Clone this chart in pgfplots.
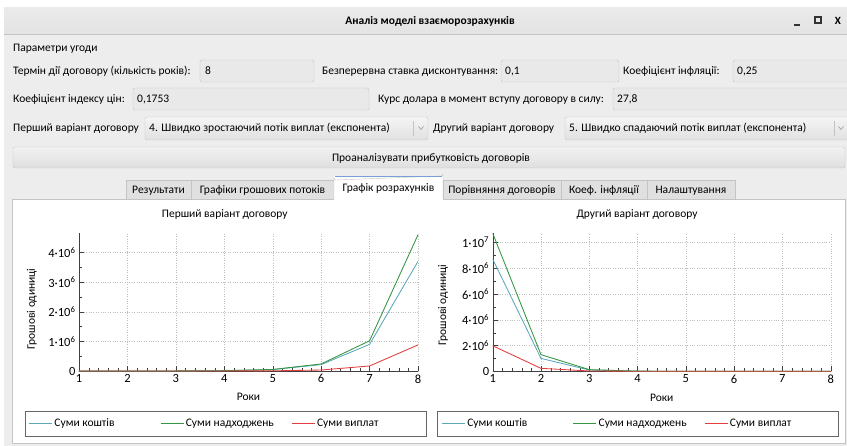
\documentclass[border=0pt]{standalone}
\usepackage{pgfplots}
\pgfplotsset{compat=1.18}
\usepackage{fontspec}
\setmainfont{Carlito}
\definecolor{cblue}{RGB}{90,168,186}
\definecolor{cgreen}{RGB}{52,150,64}
\definecolor{cred}{RGB}{230,60,60}
\definecolor{winbg}{RGB}{237,237,237}
\definecolor{boxbg}{RGB}{233,233,233}
\definecolor{boxbd}{RGB}{196,196,196}
\definecolor{tabbg}{RGB}{224,224,224}
\definecolor{selblue}{RGB}{120,160,215}

% data: contract 1 (growing), contract 2 (decreasing)
\pgfplotstableread{
x  koshty   nadh     vypl
1  110      125      9
2  510      570      47
3  2300     2550     240
4  10500    11500    1250
5  47000    52000    6400
6  215000   238000   33000
7  900000   1020000  170000
8  3700000  4600000  880000
}\dataA
\pgfplotstableread{
x  koshty   nadh     vypl
1  8700000  10700000 1980000
2  1000000  1290000  230000
3  100000   130000   25000
4  10000    13000    2700
5  1000     1300     290
6  100      130      31
7  10       13       3.4
8  1        1.3      0.4
}\dataB

\pgfplotsset{
  legend image code/.code={\draw[#1, line width=1.3pt] (0pt,0pt) -- (23pt,0pt);},
  guichart/.style={
    scale only axis, anchor=south west,
    xmin=1, xmax=8, ymin=0,
    axis lines=left, axis line style={-, black!75},
    xtick={1,...,8}, xticklabels={1,2,3,4,5,6,7,8},
    scaled y ticks=false,
    minor x tick num=4, minor y tick num=1,
    tick align=inside, major tick length=5pt, minor tick length=3pt,
    tick style={black!75},
    grid=major, major grid style={dotted, gray!50},
    tick label style={font=\fontsize{12.5}{13}\selectfont},
    label style={font=\fontsize{11.5}{13}\selectfont},
    title style={font=\fontsize{11.5}{13}\selectfont},
    xlabel={Роки}, ylabel={Грошові одиниці},
    x label style={at={(axis description cs:0.5,-0.19)}, anchor=center},
    legend columns=3,
    legend style={draw=none, fill=none, inner sep=0pt,
      nodes={inner sep=1.5pt}, font=\fontsize{11.5}{13}\selectfont},
    every axis plot/.append style={line width=0.85pt, mark=none},
  }
}

\begin{document}
\begin{tikzpicture}[font=\fontsize{11.5}{13}\selectfont]
\begin{scope}[x=1pt,y=-1pt]
  \tikzset{lbl/.style={anchor=base west, inner sep=0pt}}
  % page and window
  \fill[white] (0,0) rectangle (847,446);
  \fill[winbg] (4,8) rectangle (850,450);
  \shade[top color=white!92!black, bottom color=white!89!black] (4,8) rectangle (850,34);
  \draw[boxbd] (4,34) -- (850,34);
  \node[anchor=center, font=\fontsize{11.5}{13}\selectfont\bfseries] at (430,21) {Аналіз моделі взаєморозрахунків};
  \draw[black!80, line width=1.2pt] (794,25) -- (800,25);
  \draw[black!80, line width=1.1pt] (815,17) rectangle (821,23);
  \node[anchor=center, font=\fontsize{11}{13}\selectfont\bfseries] at (838,20.5) {X};
  % parameters
  \node[lbl] at (13,52) {Параметри угоди};
  % row 1
  \filldraw[fill=boxbg, draw=boxbd, rounded corners=2pt] (200,60) rectangle (314,82);
  \filldraw[fill=boxbg, draw=boxbd, rounded corners=2pt] (501,60) rectangle (619,82);
  \filldraw[fill=boxbg, draw=boxbd, rounded corners=2pt] (733,60) rectangle (860,82);
  \node[lbl] at (13,75) {Термін дії договору (кількість років):};
  \node[lbl] at (205,75) {8};
  \node[lbl] at (322,75) {Безперервна ставка дисконтування:};
  \node[lbl] at (505,75) {0,1};
  \node[lbl] at (623,75) {Коефіцієнт інфляції:};
  \node[lbl] at (737,75) {0,25};
  % row 2
  \filldraw[fill=boxbg, draw=boxbd, rounded corners=2pt] (133,88) rectangle (369,110);
  \filldraw[fill=boxbg, draw=boxbd, rounded corners=2pt] (613,88) rectangle (860,110);
  \node[lbl] at (13,103) {Коефіцієнт індексу цін:};
  \node[lbl] at (137,103) {0,1753};
  \node[lbl] at (378,103) {Курс долара в момент вступу договору в силу:};
  \node[lbl] at (617,103) {27,8};
  % row 3 combos
  \shade[top color=white!96!black, bottom color=white!88!black, rounded corners=2pt] (145,117) rectangle (428,140);
  \draw[boxbd, rounded corners=2pt] (145,117) rectangle (428,140);
  \draw[boxbd] (413,121) -- (413,136);
  \draw[gray] (418.5,126.5) -- (421,129.5) -- (423.5,126.5);
  \shade[top color=white!96!black, bottom color=white!88!black, rounded corners=2pt] (565,117) rectangle (860,140);
  \draw[boxbd, rounded corners=2pt] (565,117) rectangle (860,140);
  \draw[boxbd] (834,121) -- (834,136);
  \draw[gray] (838.5,126.5) -- (841,129.5) -- (843.5,126.5);
  \node[lbl] at (13,132) {Перший варіант договору};
  \node[lbl] at (149,132) {4. Швидко зростаючий потік виплат (експонента)};
  \node[lbl] at (433,132) {Другий варіант договору};
  \node[lbl] at (569,132) {5. Швидко спадаючий потік виплат (експонента)};
  % button
  \shade[top color=white!95!black, bottom color=white!87!black, rounded corners=2pt] (13,147) rectangle (845,168);
  \draw[boxbd, rounded corners=2pt] (13,147) rectangle (845,168);
  \node[anchor=base, inner sep=0pt] at (431,161.5) {Проаналізувати прибутковість договорів};
  % panel
  \filldraw[fill=white, draw=boxbd] (12,199) rectangle (845,443);
  % tabs
  \foreach \a/\b/\t in {126/191/Результати, 191/334/Графіки грошових потоків, 443/561/Порівняння договорів, 561/647/Коеф. інфляції, 647/735/Налаштування}{
    \filldraw[fill=tabbg, draw=boxbd] (\a,180) rectangle (\b,199);
    \node[anchor=base, inner sep=0pt] at ({(\a+\b)/2},193.5) {\t};
  }
  \fill[white] (334,176) rectangle (443,200);
  \draw[boxbd] (334,199) -- (334,178) arc[start angle=180, end angle=90, radius=2] -- (441,176) arc[start angle=90, end angle=0, radius=2] -- (443,199);
  \draw[selblue, line width=0.8pt] (335,176.5) -- (442,176.5);
  \node[anchor=base, inner sep=0pt] at (388.5,192) {Графік розрахунків};
  % legend boxes
  \draw[gray!80!black] (25,411) rectangle (426,436);
  \draw[gray!80!black] (437,411) rectangle (838,436);
\end{scope}

% ---- first chart
\begin{axis}[guichart,
  at={(79pt,-371pt)}, width=339pt, height=138pt,
  ymax=4.66e6,
  ytick={0,1e6,2e6,3e6,4e6},
  yticklabels={0,1·10\textsuperscript{6},2·10\textsuperscript{6},3·10\textsuperscript{6},4·10\textsuperscript{6}},
  y label style={at={(axis description cs:-0.139,0.45)}, anchor=center},
  title={Перший варіант договору},
  title style={at={(axis description cs:0.43,1.094)}, anchor=center, yshift=0pt},
  legend style={at={(axis description cs:-0.149,-0.38)}, anchor=west},
]
\addplot[cblue] table[x=x, y=koshty] {\dataA};
\addplot[cgreen] table[x=x, y=nadh] {\dataA};
\addplot[cred] table[x=x, y=vypl] {\dataA};
\legend{\makebox[104pt][l]{Суми коштів},\makebox[104pt][l]{Суми надходжень},\makebox[104pt][l]{Суми виплат}}
\end{axis}

% ---- second chart
\begin{axis}[guichart,
  at={(492.7pt,-371.3pt)}, width=338pt, height=138pt,
  ymax=1.07e7,
  ytick={0,2e6,4e6,6e6,8e6,1e7},
  yticklabels={0,2·10\textsuperscript{6},4·10\textsuperscript{6},6·10\textsuperscript{6},8·10\textsuperscript{6},1·10\textsuperscript{7}},
  y label style={at={(axis description cs:-0.147,0.48)}, anchor=center},
  title={Другий варіант договору},
  title style={at={(axis description cs:0.427,1.094)}, anchor=center, yshift=0pt},
  legend style={at={(axis description cs:-0.152,-0.38)}, anchor=west},
]
\addplot[cblue] table[x=x, y=koshty] {\dataB};
\addplot[cgreen] table[x=x, y=nadh] {\dataB};
\addplot[cred] table[x=x, y=vypl] {\dataB};
\legend{\makebox[104pt][l]{Суми коштів},\makebox[104pt][l]{Суми надходжень},\makebox[104pt][l]{Суми виплат}}
\end{axis}

\pgfresetboundingbox
\path[use as bounding box] (0pt,0pt) rectangle (847pt,-446pt);
\end{tikzpicture}
\end{document}
